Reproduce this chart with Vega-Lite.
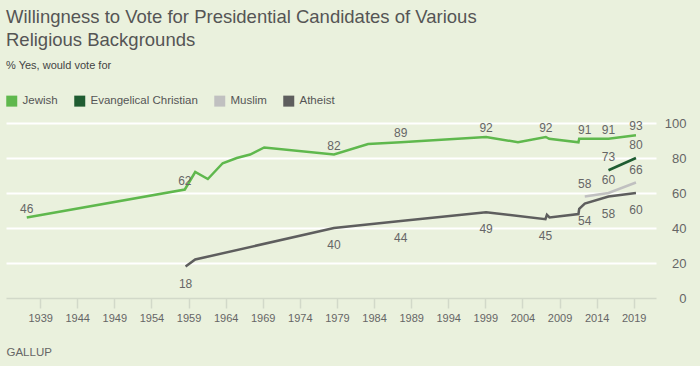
{
  "$schema": "https://vega.github.io/schema/vega-lite/v6.json",
  "width": 650,
  "height": 175,
  "autosize": {"type": "none"},
  "padding": {"left": 6, "top": 123, "right": 44, "bottom": 68},
  "background": "#eaf1dd",
  "title": {
    "text": ["Willingness to Vote for Presidential Candidates of Various", "Religious Backgrounds"],
    "subtitle": "% Yes, would vote for",
    "anchor": "start",
    "frame": "group",
    "font": "Liberation Sans",
    "fontSize": 18.5,
    "fontWeight": "normal",
    "color": "#555555",
    "lineHeight": 23,
    "subtitleFont": "Liberation Sans",
    "subtitleFontSize": 11,
    "subtitleColor": "#444444",
    "subtitlePadding": 11,
    "offset": 24
  },
  "config": {"view": {"stroke": null}, "font": "Liberation Sans"},
  "data": {
    "values": [
      {"s": "Jewish", "t": 1937.2, "v": 46, "lab": true},
      {"s": "Jewish", "t": 1958.5, "v": 62, "lab": true},
      {"s": "Jewish", "t": 1959.9, "v": 72, "lab": false},
      {"s": "Jewish", "t": 1961.6, "v": 68, "lab": false},
      {"s": "Jewish", "t": 1963.6, "v": 77, "lab": false},
      {"s": "Jewish", "t": 1965.5, "v": 80, "lab": false},
      {"s": "Jewish", "t": 1967.3, "v": 82, "lab": false},
      {"s": "Jewish", "t": 1969.2, "v": 86, "lab": false},
      {"s": "Jewish", "t": 1978.6, "v": 82, "lab": true},
      {"s": "Jewish", "t": 1983.2, "v": 88, "lab": false},
      {"s": "Jewish", "t": 1987.6, "v": 89, "lab": true},
      {"s": "Jewish", "t": 1999.1, "v": 92, "lab": true},
      {"s": "Jewish", "t": 2003.4, "v": 89, "lab": false},
      {"s": "Jewish", "t": 2007.15, "v": 92, "lab": true},
      {"s": "Jewish", "t": 2007.6, "v": 91, "lab": false},
      {"s": "Jewish", "t": 2011.55, "v": 89, "lab": false},
      {"s": "Jewish", "t": 2011.65, "v": 91, "lab": false},
      {"s": "Jewish", "t": 2012.4, "v": 91, "lab": true},
      {"s": "Jewish", "t": 2015.6, "v": 91, "lab": true},
      {"s": "Jewish", "t": 2019.3, "v": 93, "lab": true},
      {"s": "Atheist", "t": 1958.6, "v": 18, "lab": true},
      {"s": "Atheist", "t": 1959.9, "v": 22, "lab": false},
      {"s": "Atheist", "t": 1978.6, "v": 40, "lab": true},
      {"s": "Atheist", "t": 1987.6, "v": 44, "lab": true},
      {"s": "Atheist", "t": 1999.1, "v": 49, "lab": true},
      {"s": "Atheist", "t": 2007.1, "v": 45, "lab": true},
      {"s": "Atheist", "t": 2007.3, "v": 47.5, "lab": false},
      {"s": "Atheist", "t": 2007.65, "v": 46, "lab": false},
      {"s": "Atheist", "t": 2011.55, "v": 48, "lab": false},
      {"s": "Atheist", "t": 2011.65, "v": 51, "lab": false},
      {"s": "Atheist", "t": 2012.4, "v": 54, "lab": true},
      {"s": "Atheist", "t": 2015.6, "v": 58, "lab": true},
      {"s": "Atheist", "t": 2019.3, "v": 60, "lab": true},
      {"s": "Muslim", "t": 2012.4, "v": 58, "lab": true},
      {"s": "Muslim", "t": 2015.6, "v": 60, "lab": true},
      {"s": "Muslim", "t": 2019.3, "v": 66, "lab": true},
      {"s": "Evangelical Christian", "t": 2015.6, "v": 73, "lab": true},
      {"s": "Evangelical Christian", "t": 2019.3, "v": 80, "lab": true}
    ]
  },
  "encoding": {
    "x": {
      "field": "t",
      "type": "quantitative",
      "scale": {"domain": [1934.4, 2022], "nice": false, "zero": false},
      "axis": {
        "values": [1939, 1944, 1949, 1954, 1959, 1964, 1969, 1974, 1979, 1984, 1989, 1994, 1999, 2004, 2009, 2014, 2019],
        "format": "d",
        "grid": false,
        "domainColor": "#d2d9c9",
        "domainWidth": 1.5,
        "tickColor": "#d2d9c9",
        "tickSize": 10,
        "tickWidth": 1.5,
        "labelFontSize": 11,
        "labelColor": "#666666",
        "labelPadding": 4,
        "title": "GALLUP",
        "titleAnchor": "start",
        "titleAlign": "left",
        "titleX": 0,
        "titleY": 57,
        "titleBaseline": "alphabetic",
        "titleFontSize": 11.5,
        "titleFontWeight": "normal",
        "titleColor": "#666666"
      }
    },
    "y": {
      "field": "v",
      "type": "quantitative",
      "scale": {"domain": [0, 100], "nice": false},
      "axis": {
        "orient": "right",
        "values": [0, 20, 40, 60, 80, 100],
        "grid": true,
        "gridColor": {"condition": {"test": "datum.value === 0", "value": "transparent"}, "value": "#ffffff"},
        "gridWidth": 2,
        "domain": false,
        "ticks": false,
        "labelFontSize": 13,
        "labelColor": "#666666",
        "labelAlign": "right",
        "labelPadding": 30,
        "title": null
      }
    }
  },
  "layer": [
    {
      "mark": {"type": "line", "strokeWidth": 2.5},
      "encoding": {
        "color": {
          "field": "s",
          "type": "nominal",
          "scale": {
            "domain": ["Jewish", "Evangelical Christian", "Muslim", "Atheist"],
            "range": ["#5fb84d", "#1f5c31", "#c0c0c0", "#5e5e5e"]
          },
          "legend": {
            "orient": "top",
            "title": null,
            "direction": "horizontal",
            "symbolType": "square",
            "symbolSize": 121,
            "symbolStrokeWidth": 0,
            "labelFontSize": 11.5,
            "labelColor": "#555555",
            "columnPadding": 16,
            "labelOffset": 5,
            "padding": 0,
            "offset": 16,
            "encode": {"symbols": {"update": {"fill": {"scale": "color", "field": "value"}, "strokeWidth": {"value": 0}}}}
          }
        },
        "order": {"field": "t", "type": "quantitative"}
      }
    },
    {
      "transform": [{"filter": "datum.lab && datum.s === 'Jewish'"}],
      "mark": {"type": "text", "dy": -9, "fontSize": 12, "fill": "#666666", "baseline": "middle"},
      "encoding": {"text": {"field": "v", "type": "quantitative"}}
    },
    {
      "transform": [{"filter": "datum.lab && (datum.s === 'Muslim' || datum.s === 'Evangelical Christian')"}],
      "mark": {"type": "text", "dy": -13, "fontSize": 12, "fill": "#666666", "baseline": "middle"},
      "encoding": {"text": {"field": "v", "type": "quantitative"}}
    },
    {
      "transform": [{"filter": "datum.lab && datum.s === 'Atheist'"}],
      "mark": {"type": "text", "dy": 17, "fontSize": 12, "fill": "#666666", "baseline": "middle"},
      "encoding": {"text": {"field": "v", "type": "quantitative"}}
    }
  ]
}
